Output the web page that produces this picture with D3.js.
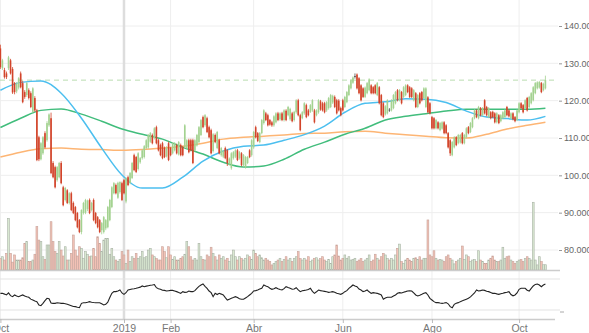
<!DOCTYPE html>
<html>
<head>
<meta charset="utf-8">
<script src="https://cdn.jsdelivr.net/npm/d3@7"></script>
<style>
  body { margin: 0; background: #fff; }
  svg { display: block; font-family: "Open Sans", sans-serif; }
</style>
</head>
<body>
<svg id="chart" width="589" height="333"></svg>
<script>
// daily prices, one value per trading day starting 2018-10-08
var opens = [
  134.0,128.7,128.2,127.3,128.7,130.8,128.5,124.7,122.5,123.5,
  127.3,124.7,122.3,121.5,122.8,122.0,117.0,120.7,117.4,110.2,
  104.3,105.9,111.3,109.4,113.4,115.3,103.3,102.2,98.7,99.5,
  103.3,96.8,93.4,96.0,92.6,95.2,92.6,91.5,89.9,88.0,
  84.8,89.9,90.0,91.0,93.4,90.7,93.4,89.9,88.8,88.0,
  85.3,84.8,85.8,86.1,88.0,91.5,95.2,97.4,94.0,95.5,
  97.9,98.7,93.0,99.5,98.0,99.3,105.4,104.9,101.7,103.5,
  104.6,104.9,107.3,107.5,109.0,110.8,110.0,112.9,109.4,108.1,
  108.6,107.3,105.1,108.6,107.3,105.9,106.7,108.1,105.6,108.1,
  107.5,107.5,107.3,109.4,109.4,109.4,106.7,108.0,108.9,110.8,
  115.6,113.4,115.3,112.9,112.1,106.5,110.8,107.3,109.4,105.4,
  105.0,107.3,106.7,103.0,101.9,104.6,105.0,106.7,104.6,105.9,
  102.7,102.2,103.3,106.7,105.4,107.5,112.9,111.3,108.9,111.3,
  114.0,116.6,116.1,114.8,114.2,113.4,114.2,116.6,115.0,116.6,
  114.8,117.3,116.1,115.0,116.6,114.8,116.9,120.1,116.1,115.3,
  116.6,118.8,117.4,117.0,117.4,117.4,116.1,116.9,119.8,119.3,
  119.3,117.4,118.0,118.3,119.5,121.0,120.1,120.0,118.0,120.1,
  118.3,119.6,121.5,123.3,124.8,126.4,127.0,126.0,124.1,123.3,
  121.0,122.0,122.8,124.1,123.6,124.1,121.5,123.6,121.5,119.3,
  116.3,116.6,117.6,117.4,118.0,119.3,122.8,120.1,122.3,121.0,
  121.5,124.1,123.6,123.3,120.1,122.0,118.3,122.0,122.3,120.7,
  118.3,120.9,119.3,115.6,115.3,112.6,114.2,112.1,112.5,114.2,
  113.4,111.3,109.4,105.4,107.5,110.2,108.6,108.8,111.3,108.6,
  110.2,112.9,111.6,112.9,115.3,117.4,115.3,118.0,116.1,120.1,
  118.3,115.6,116.9,117.0,116.6,114.2,116.1,114.5,115.3,115.6,
  118.3,117.4,115.3,116.6,115.6,114.8,116.9,119.3,118.8,118.0,
  120.7,118.3,119.3,120.1,122.0,123.3,123.5,124.7,122.8,123.3
];
var highs = [
  135.0,131.2,128.8,127.8,132.0,131.2,129.0,125.0,125.0,126.3,
  127.8,125.3,122.8,125.0,123.3,122.5,123.6,121.2,117.8,110.6,
  108.9,110.5,111.8,114.5,116.6,116.8,103.8,102.6,102.5,103.6,
  103.8,97.2,96.9,96.3,95.5,95.6,93.0,91.8,90.2,88.3,
  90.9,92.9,93.7,93.5,93.8,92.9,93.8,90.2,89.1,88.3,
  87.5,89.1,88.3,91.8,93.7,97.1,98.2,97.8,98.3,98.4,
  98.3,99.0,99.5,99.9,100.9,103.6,105.8,105.2,106.2,104.9,
  107.0,108.1,109.7,111.1,111.6,111.2,112.9,113.3,109.8,108.5,
  109.0,107.7,107.8,109.0,107.6,108.9,108.9,108.5,109.2,108.5,
  107.9,113.7,109.7,109.8,109.8,109.8,109.7,111.1,113.2,115.1,
  116.0,116.4,115.7,113.3,112.5,111.3,111.2,111.9,109.8,107.6,
  106.8,107.7,107.0,104.8,106.2,106.5,107.0,107.1,106.5,106.2,
  105.7,105.2,105.2,107.0,109.7,111.9,113.3,111.6,111.6,115.1,
  117.7,117.0,116.5,115.1,114.6,116.1,116.9,117.0,116.9,117.0,
  117.7,117.7,118.6,118.1,117.0,117.3,120.4,120.5,116.5,117.2,
  119.6,119.2,117.8,119.1,120.4,117.8,117.7,120.4,120.2,119.7,
  119.7,119.9,121.0,121.8,121.6,121.4,120.5,120.4,118.4,120.5,
  121.3,122.6,124.4,125.8,126.5,127.3,127.3,126.3,124.4,123.6,
  123.8,125.0,126.0,124.4,123.9,124.4,125.0,123.9,121.8,119.6,
  118.8,120.4,118.0,120.4,121.8,122.6,123.1,123.1,122.6,123.9,
  124.4,124.4,123.9,123.6,123.1,122.3,121.8,122.3,122.6,123.6,
  123.6,121.2,119.6,115.9,115.6,115.1,114.5,114.3,114.5,114.5,
  113.7,111.6,109.7,109.2,110.5,110.5,111.1,111.1,111.6,111.1,
  112.9,113.2,114.3,115.6,117.7,117.7,118.6,118.3,118.3,120.4,
  118.6,118.3,117.2,117.3,116.9,116.9,116.4,116.4,117.2,117.7,
  118.6,117.7,116.9,116.9,115.9,117.7,119.6,119.6,119.1,120.4,
  121.0,121.3,122.3,123.9,125.0,125.2,125.3,125.0,124.8,126.7
];
var lows = [
  128.5,128.2,125.9,125.8,128.2,127.0,121.8,121.7,122.0,123.0,
  123.3,119.3,120.5,121.0,120.3,118.0,116.6,117.0,103.8,103.8,
  104.0,105.5,107.2,109.0,113.0,100.3,99.2,96.5,98.3,99.2,
  97.6,91.7,93.0,92.3,92.2,90.4,89.6,87.7,85.8,84.5,
  84.2,89.5,89.6,90.4,89.6,90.3,87.7,86.9,85.8,84.5,
  84.2,84.4,85.3,85.8,87.7,91.2,94.9,94.9,93.7,95.1,
  93.1,94.9,92.5,97.1,97.6,99.0,101.1,100.6,101.3,103.1,
  104.2,104.5,107.0,107.1,108.7,108.3,109.6,108.3,106.4,105.1,
  104.3,104.6,104.8,103.8,105.1,105.6,106.4,105.6,105.3,105.1,
  105.1,107.1,107.0,105.9,106.4,103.0,106.4,107.7,108.6,110.5,
  112.6,113.0,111.3,109.9,105.6,106.1,108.6,107.0,105.6,105.0,
  104.6,104.3,102.5,102.6,101.5,104.2,104.6,103.8,104.2,102.4,
  102.3,101.8,103.0,104.6,105.0,107.1,109.9,108.9,108.6,111.0,
  113.6,114.5,113.1,113.3,113.0,113.0,113.9,114.5,114.6,114.5,
  114.4,114.5,115.8,114.6,114.2,114.4,116.5,115.8,111.8,115.0,
  116.2,115.3,115.8,116.7,117.0,113.9,115.8,116.5,117.3,117.1,
  116.6,117.0,117.6,118.0,119.1,118.0,116.3,117.1,115.8,117.1,
  118.0,119.3,121.2,123.0,124.5,125.9,123.0,121.7,119.8,120.7,
  120.7,121.7,122.5,121.7,121.7,121.7,121.2,119.0,115.8,115.3,
  116.0,116.3,117.0,117.1,117.7,119.0,119.8,119.8,119.0,120.7,
  121.2,122.0,120.7,120.7,119.8,118.0,118.0,119.0,119.8,120.4,
  118.0,116.6,116.3,112.3,112.3,112.3,112.3,111.8,112.2,111.0,
  111.0,107.2,105.2,105.1,107.2,107.8,108.3,108.5,108.3,108.3,
  109.9,111.0,111.3,112.6,115.0,115.3,115.0,115.8,115.8,116.3,
  115.8,115.3,115.0,115.3,113.9,113.9,113.7,114.2,115.0,115.3,
  115.8,115.5,115.0,114.7,114.2,114.5,116.6,117.7,116.6,117.7,
  117.1,118.0,119.0,119.8,121.7,123.0,123.2,122.0,122.5,123.0
];
var closes = [
  129.0,130.8,126.3,126.3,131.6,127.3,122.2,122.3,124.5,126.0,
  123.6,119.6,121.0,124.7,120.7,118.3,123.3,117.4,104.1,104.3,
  108.6,110.2,107.5,114.0,116.3,100.6,99.5,96.8,102.2,103.3,
  97.9,92.0,96.6,92.6,95.2,90.7,89.9,88.0,86.1,84.8,
  90.7,92.6,93.4,93.2,89.9,92.6,88.0,87.2,86.1,84.8,
  87.2,88.8,88.0,91.5,93.4,96.8,97.9,95.2,98.0,98.2,
  93.4,95.2,99.2,97.4,100.6,103.3,101.4,100.9,105.9,104.6,
  106.7,107.8,109.4,110.8,111.3,108.6,112.6,108.6,106.7,105.4,
  104.6,104.9,107.5,104.1,105.4,108.6,108.6,105.9,108.9,105.4,
  105.4,113.4,109.4,106.2,106.7,103.3,109.4,110.8,112.9,114.8,
  112.9,116.1,111.6,110.2,105.9,111.0,108.9,111.6,105.9,107.3,
  106.5,104.6,103.3,104.5,105.9,106.2,106.7,104.1,106.2,102.7,
  105.4,104.9,104.9,104.9,109.4,111.6,110.2,109.2,111.3,114.8,
  117.4,114.8,113.4,113.6,113.4,115.8,116.6,114.8,116.6,114.8,
  117.4,114.8,118.3,117.8,114.5,117.0,120.1,116.1,112.1,116.9,
  119.3,115.6,116.1,118.8,120.1,114.2,117.4,120.1,117.6,117.4,
  116.9,119.6,120.7,121.5,121.3,118.3,116.6,117.4,116.1,117.4,
  121.0,122.3,124.1,125.5,126.2,126.6,123.3,122.0,120.1,121.0,
  123.5,124.7,125.7,122.0,122.0,122.0,124.7,119.3,116.1,115.6,
  118.5,120.1,117.4,120.1,121.5,122.3,120.1,122.8,119.3,123.6,
  124.1,122.3,121.0,121.0,122.8,118.3,121.5,119.3,120.1,123.3,
  123.3,116.9,116.6,112.6,112.6,114.8,112.6,114.0,114.2,111.3,
  111.3,107.5,105.9,108.9,110.2,108.1,110.8,110.8,108.6,110.8,
  112.6,111.3,114.0,115.3,117.4,115.6,118.3,116.1,118.0,116.6,
  116.1,118.0,115.3,115.6,114.2,116.6,114.0,116.1,116.9,117.4,
  116.1,115.8,116.6,115.0,114.5,117.4,119.3,118.0,116.9,120.1,
  117.4,121.0,122.0,123.6,124.7,124.9,125.0,122.3,124.5,125.5
];
// volume, millions
var volumes = [
  6.5,7.6,5.7,9.5,29.5,9.5,4.5,8.6,5.7,5.7,
  5.7,7.0,15.2,16.2,4.8,4.8,5.7,9.0,24.8,17.1,
  16.2,7.6,6.0,14.3,14.3,27.6,16.2,10.5,9.5,16.2,
  11.4,8.0,13.3,5.7,5.7,9.5,20.0,11.4,8.0,13.3,
  12.4,6.7,10.5,9.0,7.6,8.0,12.4,7.6,19.0,15.2,
  10.5,17.1,18.1,18.1,9.0,12.4,7.6,5.7,4.8,6.0,
  10.5,8.6,3.8,11.4,4.8,7.6,6.5,9.5,6.7,7.6,
  10.5,7.0,7.6,11.4,12.4,8.6,7.6,6.5,5.7,5.7,
  13.3,10.5,7.0,13.3,8.6,6.0,7.6,5.7,5.7,6.7,
  7.6,9.0,16.2,13.3,7.6,5.7,6.5,5.7,15.2,7.6,
  6.0,5.7,8.6,7.6,13.0,9.5,7.6,5.7,8.6,6.7,
  7.6,5.7,6.7,4.8,8.6,11.4,7.6,5.7,7.6,6.7,
  5.7,6.7,8.6,7.6,6.0,11.4,9.5,7.6,8.6,7.0,
  5.7,6.7,5.7,4.8,2.9,3.8,4.8,5.7,6.7,4.8,
  6.0,7.6,5.7,6.7,4.8,6.7,7.6,10.5,6.5,5.7,
  6.7,5.7,7.6,4.8,5.7,6.7,7.0,5.7,6.5,7.6,
  5.7,4.8,6.0,3.8,7.6,8.6,14.3,8.0,5.7,6.7,
  8.6,6.7,7.6,5.7,6.0,6.7,4.8,5.7,6.5,4.8,
  5.7,6.7,8.6,4.8,5.7,9.0,6.7,5.7,7.6,9.5,
  8.6,6.5,5.7,6.7,5.7,8.6,12.4,14.8,4.8,3.8,
  5.7,6.7,5.7,4.8,6.7,7.0,6.0,7.6,5.7,6.7,
  6.7,28.6,8.6,7.6,11.0,6.7,5.7,6.0,5.7,4.8,
  7.6,8.6,6.7,5.7,3.5,4.8,5.7,6.7,13.7,6.0,
  8.6,7.6,4.8,5.7,6.0,4.8,11.0,5.7,4.8,3.8,
  3.8,5.7,6.7,8.0,5.7,4.8,4.8,5.7,13.0,6.7,
  7.6,8.0,5.7,4.8,3.8,4.8,5.7,6.0,4.8,6.5,
  7.6,6.7,5.7,38.7,5.7,2.9,7.6,4.8,3.0,3.0
];
// oscillator (lower panel)
var rsi = [
  51.5,51.5,50.5,49.4,52.0,48.5,47.2,49.4,48.0,47.2,
  48.5,49.4,48.0,47.0,46.4,44.0,42.9,41.5,40.8,36.5,
  35.6,38.6,42.0,45.1,44.5,39.0,38.6,38.6,39.4,39.0,
  38.6,38.6,38.0,37.4,36.5,35.6,34.5,34.3,33.5,33.0,
  38.6,39.4,39.4,40.0,40.8,40.0,39.6,39.4,39.4,39.4,
  38.0,36.5,37.4,40.0,46.0,51.5,53.7,53.7,54.5,55.8,
  52.0,50.2,52.3,55.8,56.5,57.1,57.5,58.0,58.8,59.5,
  61.0,60.1,60.8,61.4,62.0,62.3,62.8,58.8,57.5,56.9,
  55.5,55.3,54.5,54.9,55.3,55.3,54.5,53.7,52.5,51.5,
  53.7,52.8,53.0,54.5,53.7,53.7,55.0,58.0,60.5,62.3,
  63.6,60.5,58.0,54.5,52.4,47.2,51.5,50.0,51.5,50.5,
  49.4,46.0,42.9,44.0,45.1,46.0,47.2,46.0,44.5,43.8,
  43.8,45.5,47.2,49.4,51.5,54.5,55.0,55.8,57.0,58.0,
  62.3,61.0,60.1,58.0,56.7,57.5,58.8,57.5,56.5,55.8,
  57.5,60.1,59.0,58.0,56.7,57.0,58.8,56.0,53.7,54.9,
  55.3,55.8,56.5,58.0,54.0,51.5,53.5,55.8,55.0,54.5,
  54.0,53.5,52.8,53.2,53.7,53.0,51.5,51.0,50.2,51.5,
  53.7,55.0,58.0,60.0,62.3,61.0,60.1,57.0,55.8,53.7,
  54.5,55.8,53.5,51.5,52.4,52.0,51.5,50.5,49.4,43.8,
  45.5,46.4,46.4,46.4,48.0,49.4,51.5,52.4,52.0,53.0,
  53.7,54.5,54.9,54.5,52.0,49.4,48.1,49.0,50.2,51.5,
  52.4,49.4,45.0,42.9,40.8,39.5,39.5,39.0,38.6,39.0,
  39.5,38.0,34.3,33.0,37.3,38.6,39.5,40.8,41.8,42.9,
  44.0,45.1,47.0,49.4,52.0,55.8,54.5,55.0,55.8,55.3,
  54.3,53.7,52.5,51.5,51.5,50.8,50.2,51.0,51.5,52.4,
  53.0,53.7,50.0,48.3,49.4,52.0,56.7,58.0,58.0,58.0,
  55.5,54.5,58.0,61.0,63.0,63.6,62.3,60.1,62.3,63.6
];
// moving averages read at these trading-day indices
var maIdx   = [0,10,20,30,40,50,60,70,80,90,100,110,120,130,140,150,160,170,180,190,200,210,220,230,240,250,260,269];
var maFast  = [122.8,124.9,125.3,122.0,115.3,107.3,100.1,96.6,96.6,99.5,103.8,106.5,107.8,108.1,109.4,110.9,113.2,116.9,119.3,119.7,120.5,120.4,119.5,117.2,115.6,115.2,114.8,115.8];
var maMid   = [112.8,115.3,117.4,117.8,116.4,114.5,112.4,111.0,109.7,107.5,105.7,103.5,102.2,102.5,104.3,107.0,108.9,111.0,112.6,114.8,115.8,116.5,117.2,117.7,117.7,117.7,117.7,118.0];
var maSlow  = [104.9,106.2,107.1,107.3,107.0,106.9,106.7,106.9,107.3,107.8,108.6,109.7,110.2,110.5,110.8,111.2,111.3,111.7,111.8,111.3,110.9,110.5,110.1,110.0,111.0,112.4,113.4,114.2];

var priceTicks = [80, 90, 100, 110, 120, 130, 140];
var tickDates  = ["2018-10-01","2019-01-01","2019-02-01","2019-04-01","2019-06-01","2019-08-01","2019-10-01"];
var tickLabels = ["Oct","2019","Feb","Abr","Jun","Ago","Oct"];

// weekdays from the first session
var dates = [];
var day = new Date(2018, 9, 8);
while (dates.length < closes.length) {
  if (day.getDay() !== 0 && day.getDay() !== 6) dates.push(new Date(day));
  day.setDate(day.getDate() + 1);
}

var svg = d3.select("#chart");
var x = d3.scaleLinear().domain([-0.2, 276.2]).range([0, 560]);
var y = d3.scaleLinear().domain([80, 140]).range([250, 26]);
var yVol = d3.scaleLinear().domain([0, 40]).range([270, 200]);
var yOsc = d3.scaleLinear().domain([30, 70]).range([310, 279]);

// month ticks -> index of last session on or before that date
var parse = d3.timeParse("%Y-%m-%d");
var tickIdx = tickDates.map(function(s) {
  var i = d3.bisector(function(d) { return d; }).right(dates, parse(s)) - 1;
  return Math.max(i, 0);
});

var grid = svg.append("g");
grid.selectAll("line.h").data(priceTicks).enter().append("line")
  .attr("x1", 0).attr("x2", 558)
  .attr("y1", function(d) { return y(d); }).attr("y2", function(d) { return y(d); })
  .attr("stroke", "#eeeeee").attr("stroke-width", 1);
grid.selectAll("line.v").data(tickIdx).enter().append("line")
  .attr("x1", function(d) { return x(d); }).attr("x2", function(d) { return x(d); })
  .attr("y1", 0).attr("y2", 319)
  .attr("stroke", function(d, i) { return tickLabels[i] === "2019" ? "#dddddd" : "#eeeeee"; })
  .attr("stroke-width", function(d, i) { return tickLabels[i] === "2019" ? 2.5 : 1; });

// dashed line at last close
var lastClose = closes[closes.length - 1];
svg.append("line")
  .attr("x1", 0).attr("x2", 558)
  .attr("y1", y(lastClose)).attr("y2", y(lastClose))
  .attr("stroke", "#b9ddb0").attr("stroke-width", 1)
  .attr("stroke-dasharray", "5,4");

// volume
var idx = d3.range(closes.length);
svg.append("g").selectAll("rect").data(idx).enter().append("rect")
  .attr("x", function(i) { return x(i) - 0.9; })
  .attr("width", 1.8)
  .attr("y", function(i) { return yVol(volumes[i]); })
  .attr("height", function(i) { return yVol(0) - yVol(volumes[i]); })
  .attr("fill", function(i) { return closes[i] >= opens[i] ? "#d9e8d2" : "#f3c2b6"; })
  .attr("stroke", function(i) { return closes[i] >= opens[i] ? "#a9b3a5" : "#c7a39a"; })
  .attr("stroke-width", 0.6);

// panel separators
svg.append("line").attr("x1", 0).attr("x2", 560).attr("y1", 270.5).attr("y2", 270.5)
  .attr("stroke", "#cccccc").attr("stroke-width", 1.5);
svg.selectAll("line.osc").data([70, 30]).enter().append("line")
  .attr("x1", 0).attr("x2", 560)
  .attr("y1", function(d) { return yOsc(d); }).attr("y2", function(d) { return yOsc(d); })
  .attr("stroke", "#e3e3e3").attr("stroke-width", 1);
svg.append("line").attr("x1", 560).attr("x2", 564).attr("y1", yOsc(30) + 2).attr("y2", yOsc(30) + 2)
  .attr("stroke", "#aaaaaa");

// moving averages
var maLine = function(vals) {
  return d3.line()
    .x(function(d, i) { return x(maIdx[i]); })
    .y(function(d) { return y(d); })
    .curve(d3.curveMonotoneX)(vals);
};
[[maSlow, "#fdb574"], [maMid, "#41bd7c"], [maFast, "#4cbfef"]].forEach(function(m) {
  svg.append("path").attr("d", maLine(m[0]))
    .attr("fill", "none").attr("stroke", m[1]).attr("stroke-width", 1.5);
});

// candles
var candle = svg.append("g").selectAll("g").data(idx).enter().append("g");
var colorOf = function(i) {
  if (Math.abs(closes[i] - opens[i]) < 0.3) return "#555555";
  return closes[i] >= opens[i] ? "#a3d290" : "#d2442a";
};
candle.append("line")
  .attr("x1", function(i) { return x(i); }).attr("x2", function(i) { return x(i); })
  .attr("y1", function(i) { return y(highs[i]); }).attr("y2", function(i) { return y(lows[i]); })
  .attr("stroke", colorOf).attr("stroke-width", 0.8);
candle.append("rect")
  .attr("x", function(i) { return x(i) - 0.8; })
  .attr("width", 1.6)
  .attr("y", function(i) { return y(Math.max(opens[i], closes[i])); })
  .attr("height", function(i) { return Math.max(1, Math.abs(y(opens[i]) - y(closes[i]))); })
  .attr("fill", colorOf);

// oscillator
svg.append("path")
  .attr("d", d3.line().x(function(d, i) { return x(i); }).y(function(d) { return yOsc(d); })(rsi))
  .attr("fill", "none").attr("stroke", "#222222").attr("stroke-width", 1.1);

// right price axis
var yAxis = svg.append("g").attr("transform", "translate(559,0)")
  .call(d3.axisRight(y).tickValues(priceTicks).tickFormat(d3.format(".3f")).tickSize(3).tickPadding(2));
yAxis.select(".domain").remove();
yAxis.selectAll("line").attr("stroke", "#999999");
yAxis.selectAll("text").attr("fill", "#666666").style("font-size", "9px");

// bottom time axis
var xAxis = svg.append("g").attr("transform", "translate(0,319)")
  .call(d3.axisBottom(x).tickValues(tickIdx)
    .tickFormat(function(d, i) { return tickLabels[i]; }).tickSize(4).tickPadding(2).tickSizeOuter(0));
xAxis.select(".domain").attr("stroke", "#cccccc").attr("stroke-width", 1.5).attr("d", "M0,0.5H555");
xAxis.selectAll("line").attr("stroke", "#bbbbbb");
xAxis.selectAll("text").attr("fill", "#777777").style("font-size", "10.5px");
</script>
</body>
</html>
